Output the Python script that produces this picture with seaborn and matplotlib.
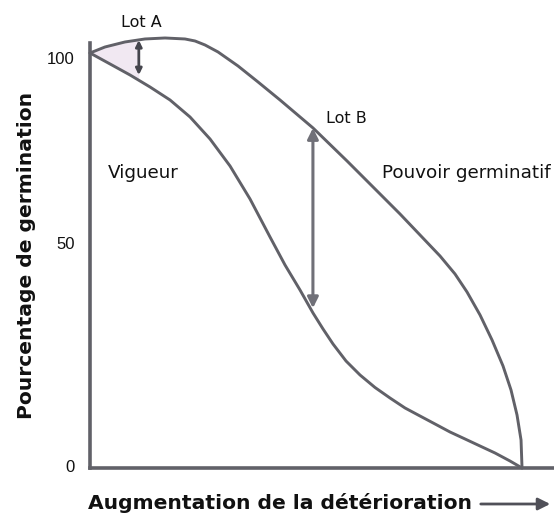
import matplotlib
matplotlib.use("Agg")
import matplotlib.pyplot as plt
import matplotlib.patches as mpatches
import seaborn as sns
import pandas as pd
import numpy as np

# --- data ---
pouvoir_x = [0, 3.47, 8.10, 12.73, 17.36, 21.99, 24.31, 26.62, 29.63, 34.26, 38.89, 43.98,
             51.62, 59.49, 67.13, 71.76, 76.39, 81.02, 84.49, 87.27, 90.28, 93.06, 95.60,
             97.45, 98.84, 99.77, 100]
pouvoir_y = [100.97, 102.43, 103.65, 104.38, 104.62, 104.38, 103.89, 102.92, 101.22, 97.81,
             93.92, 89.54, 82.73, 74.70, 66.67, 61.80, 56.69, 51.58, 47.20, 42.82, 37.23,
             31.14, 24.82, 18.98, 12.90, 6.81, 0]
vigueur_x = [0, 4.63, 9.26, 13.89, 18.52, 23.15, 27.78, 32.41, 37.04, 41.67, 45.14, 48.61,
             51.62, 53.94, 56.25, 59.26, 62.50, 65.97, 69.44, 72.92, 76.39, 79.86, 83.33,
             86.81, 90.28, 93.75, 97.22, 100]
vigueur_y = [100.97, 98.30, 95.62, 92.70, 89.54, 85.40, 80.05, 73.48, 65.45, 56.20, 49.39,
             43.31, 37.71, 33.82, 30.17, 26.03, 22.63, 19.59, 17.03, 14.60, 12.65, 10.71,
             8.76, 7.06, 5.35, 3.65, 1.70, 0]
lotA_x = 11.3
lotA_range = [95.6, 104.1]
lotB_x = 51.6
lotB_range = [38.9, 82.7]
ytick_pos = [0.5, 54.7, 99.8]
ytick_lab = ["0", "50", "100"]

sns.set_theme(style="white")
plt.rcParams['font.family'] = ['Liberation Sans', 'DejaVu Sans']

col = "#616168"
df = pd.concat([
    pd.DataFrame({"x": pouvoir_x, "y": pouvoir_y, "s": "Pouvoir germinatif"}),
    pd.DataFrame({"x": vigueur_x, "y": vigueur_y, "s": "Vigueur"}),
])

fig = plt.figure(figsize=(5.54, 5.26), dpi=100)
ax = fig.add_axes([90/554, 58/526, 464/554, 425/526])
sns.lineplot(data=df, x="x", y="y", hue="s", palette=[col, col], sort=False,
             estimator=None, linewidth=2.1, legend=False, ax=ax)
for l in ax.lines:
    l.set_clip_on(False)
    l.set_solid_joinstyle("round")

# Lot A shaded region between curves
xs = np.linspace(0, lotA_x, 30)
up = np.interp(xs, pouvoir_x, pouvoir_y)
lo = np.interp(xs, vigueur_x, vigueur_y)
ax.fill_between(xs, lo, up, color="#f1e8f2", zorder=0, linewidth=0, clip_on=False)

ax.annotate("", xy=(lotA_x, lotA_range[1]), xytext=(lotA_x, lotA_range[0]),
            annotation_clip=False,
            arrowprops=dict(arrowstyle="<|-|>", color="#45454d", lw=2.0,
                            mutation_scale=9, shrinkA=0, shrinkB=0))
ax.annotate("", xy=(lotB_x, lotB_range[1]), xytext=(lotB_x, lotB_range[0]),
            annotation_clip=False,
            arrowprops=dict(arrowstyle="<|-|>", color="#707078", lw=2.2,
                            mutation_scale=16, shrinkA=0, shrinkB=0))

ax.set_xlim(0, 107.4)
ax.set_ylim(0, 103.4)
ax.set_yticks(ytick_pos)
ax.set_yticklabels(ytick_lab, fontsize=12, color="#111111")
ax.set_xticks([])
ax.tick_params(axis="y", length=0, pad=11)
for s in ["top", "right"]:
    ax.spines[s].set_visible(False)
for s in ["left", "bottom"]:
    ax.spines[s].set_color(col)
    ax.spines[s].set_linewidth(2.6)

ax.set_xlabel("")
ax.set_ylabel("Pourcentage de germination", fontsize=14.6, fontweight="bold",
              family="DejaVu Sans", color="#111111", labelpad=8)

txt = dict(family="DejaVu Sans", color="#111111", ha="center", va="center")
ax.text(11.8, 108.3, "Lot A", fontsize=11.5, clip_on=False, **txt)
ax.text(59.3, 85.0, "Lot B", fontsize=11.5, **txt)
ax.text(12.3, 71.8, "Vigueur", fontsize=13.2, **txt)
ax.text(87.0, 71.8, "Pouvoir germinatif", fontsize=13.2, clip_on=False, **txt)

fig.text(88/554, 1 - 503/526, "Augmentation de la détérioration", fontsize=14.6,
         family="DejaVu Sans", fontweight="bold", ha="left", va="center", color="#111111")
fig.patches.append(mpatches.FancyArrowPatch(
    (478/554, 1 - 504/526), (553/554, 1 - 504/526), transform=fig.transFigure,
    arrowstyle="-|>", mutation_scale=18, color="#505058", lw=2.0))

fig.savefig("out.png", dpi=100)
